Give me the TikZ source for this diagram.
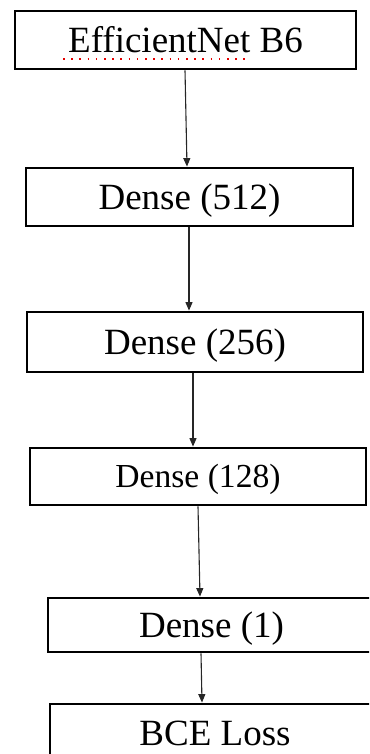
\documentclass[tikz,border=0pt]{standalone}
\usepackage{fontspec}
\setmainfont{Liberation Serif}
\usetikzlibrary{arrows.meta}
\begin{document}
\begin{tikzpicture}[x=1pt,y=1pt,
  layer/.style={draw=black, line width=2.8pt, rectangle, inner sep=0pt,
    text height=24.5pt, text depth=0pt, font=\fontsize{37}{40}\selectfont},
  smalllayer/.style={layer, text height=22.2pt, font=\fontsize{33.6}{36}\selectfont},
  flow/.style={draw=black!85, line width=1.1pt, -{Triangle[length=8.5pt,width=7pt]}},
  spellmark/.style={draw=red!90!black, line width=1.6pt, dash pattern=on 1.6pt off 6.6pt}]
\clip (0,0) rectangle (369,-754);

% network layers
\node[layer, minimum width=341pt, minimum height=58pt] (b1) at (185.5,-40) {EfficientNet B6};
\node[layer, minimum width=327pt, minimum height=58pt] (b2) at (189.5,-197) {Dense (512)};
\node[layer, minimum width=336pt, minimum height=60pt] (b3) at (195,-342) {Dense (256)};
\node[smalllayer, minimum width=336pt, minimum height=57pt] (b4) at (198,-476.5) {Dense (128)};
\node[layer, minimum width=327pt, minimum height=54pt] (b5) at (211.5,-625) {Dense (1)};
\node[layer, minimum width=330pt, minimum height=58pt] (b6) at (215,-733) {BCE Loss};

% spell-check mark under the backbone name
\draw[spellmark] (63,-59) -- (250,-59);

% data flow
\draw[flow] ([xshift=-0.5pt]b1.south) -- ([xshift=-2.5pt]b2.north);
\draw[flow] ([xshift=-0.5pt]b2.south) -- ([xshift=-6pt]b3.north);
\draw[flow] ([xshift=-2pt]b3.south) -- ([xshift=-5pt]b4.north);
\draw[flow] (b4.south) -- ([xshift=-11.5pt]b5.north);
\draw[flow] ([xshift=-10.5pt]b5.south) -- ([xshift=-13pt]b6.north);
\end{tikzpicture}
\end{document}
